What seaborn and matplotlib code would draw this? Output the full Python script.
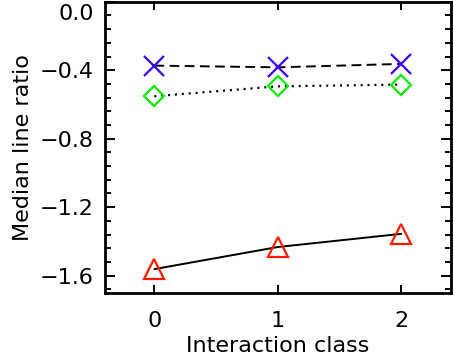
import numpy as np
import matplotlib
matplotlib.use("Agg")
import matplotlib.pyplot as plt
import matplotlib.transforms as mtransforms
from matplotlib.ticker import MultipleLocator
import seaborn as sns

# data
classes = [0, 1, 2]
ratio_x = [-0.373, -0.383, -0.363]        # blue crosses, dashed
ratio_diamond = [-0.552, -0.494, -0.484]  # green diamonds, dotted
ratio_tri = [-1.562, -1.433, -1.356]      # red triangles, solid

sns.set_style("ticks")
plt.rcParams['font.family'] = ['DejaVu Sans']
plt.rcParams['font.size'] = 16
plt.rcParams['text.color'] = 'k'
plt.rcParams['axes.labelcolor'] = 'k'
plt.rcParams['xtick.color'] = 'k'
plt.rcParams['ytick.color'] = 'k'

fig = plt.figure(figsize=(4.54, 3.58), dpi=100)
ax = fig.add_axes([0.2313, 0.1824, 0.9927 - 0.2313, 0.995 - 0.1824])

# lines with hollow markers
sns.lineplot(x=classes, y=ratio_x, ax=ax, color='k', lw=1.4,
             marker='x', markersize=15, markeredgecolor='#3d00f0',
             markeredgewidth=1.6)
sns.lineplot(x=classes, y=ratio_diamond, ax=ax, color='k', lw=1.6,
             marker='D', markersize=10.5, markeredgecolor='#00ee00',
             markerfacecolor='none', markeredgewidth=1.6)
sns.lineplot(x=classes, y=ratio_tri, ax=ax, color='k', lw=1.4,
             marker='^', markersize=14, markeredgecolor='#ff1a00',
             markerfacecolor='none', markeredgewidth=1.6)

lines = ax.get_lines()
lines[0].set_dashes((5, 2.8))
lines[1].set_dashes((0.9, 2.2))

ax.set_xlim(-0.4, 2.4)
ax.set_ylim(-1.7, 0.0)
ax.set_xticks([0, 1, 2])
ax.yaxis.set_minor_locator(MultipleLocator(0.08))
ax.set_yticks([0.0, -0.4, -0.8, -1.2, -1.6])
ax.set_yticklabels(['0.0', '\u22120.4', '\u22120.8', '\u22121.2', '\u22121.6'])

ax.tick_params(axis='both', which='both', direction='in', top=True, right=True,
               width=1.4, color='k', labelcolor='k', labelsize=16)
ax.tick_params(axis='x', which='major', length=6, pad=13)
ax.tick_params(axis='y', which='major', length=7, pad=8)
ax.tick_params(axis='y', which='minor', length=4)
ax.tick_params(axis='x', which='minor', bottom=False, top=False)

for sp in ax.spines.values():
    sp.set_linewidth(2.0)
    sp.set_color('k')

ax.set_xlabel('Interaction class', fontsize=16, labelpad=4)
ax.set_ylabel('Median line ratio', fontsize=16, labelpad=5)

# keep the top label inside the figure, as in the original
top_lbl = ax.get_yticklabels()[0]
top_lbl.set_transform(top_lbl.get_transform() +
                      mtransforms.ScaledTranslation(0, -10 / 100, fig.dpi_scale_trans))

fig.savefig('out.png', dpi=100)
